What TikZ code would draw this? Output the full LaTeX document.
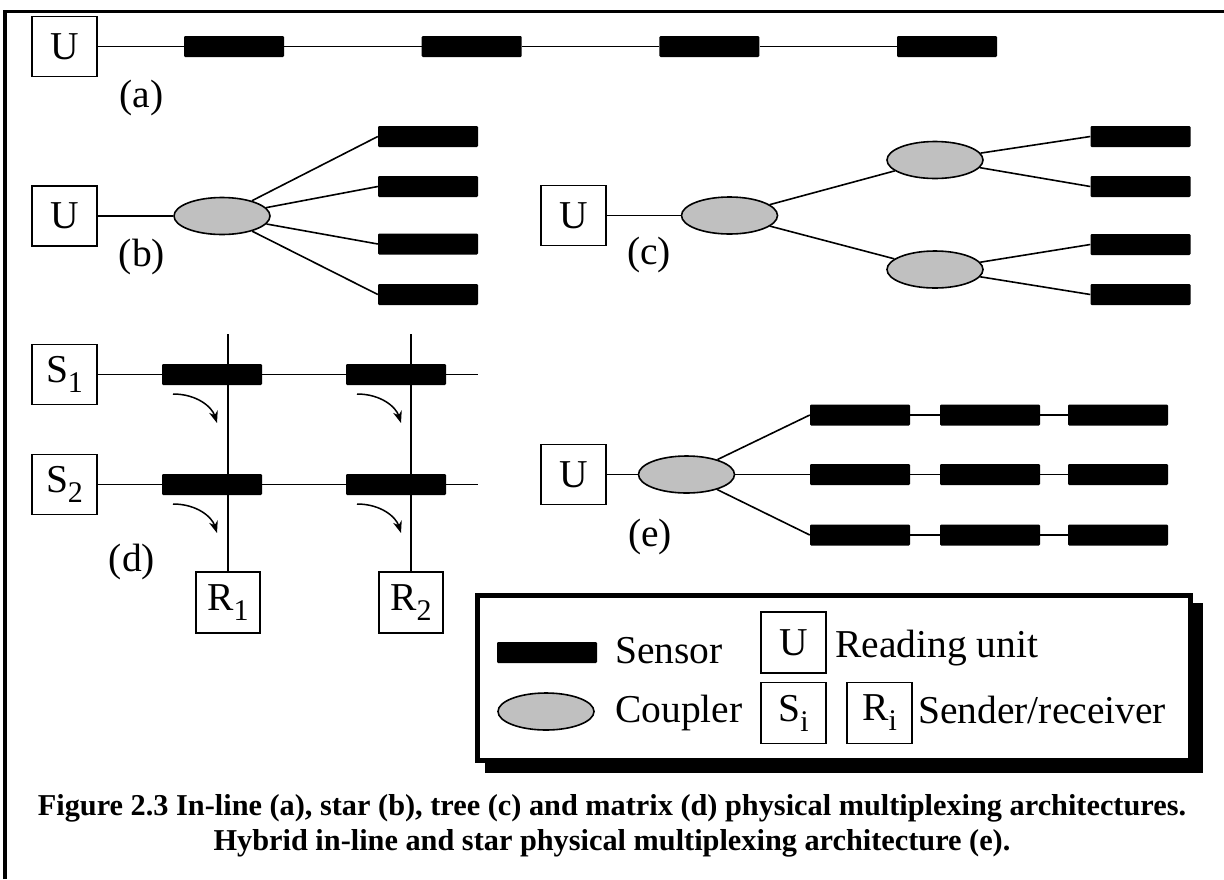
\documentclass[tikz,border=0pt]{standalone}
\usepackage{fontspec}
\setmainfont{Liberation Serif}
\usetikzlibrary{shapes.geometric,arrows.meta}
\definecolor{couplergray}{RGB}{192,192,192}
% lowered, slightly reduced index for S_1, R_i, ...
\newcommand{\lowsub}[1]{\raisebox{-10pt}{\fontsize{30}{30}\selectfont #1}}

\begin{document}
\begin{tikzpicture}[x=1pt,y=-1pt,
  every node/.style={font=\fontsize{39.5}{44}\selectfont},
  unitbox/.style={draw, line width=1.6pt, minimum width=65pt, minimum height=60pt, inner sep=0pt},
  sensor/.style={fill=black, rounded corners=1.2pt, minimum width=100pt, minimum height=21pt, inner sep=0pt},
  coupler/.style={ellipse, draw, line width=1.6pt, fill=couplergray, minimum width=96pt, minimum height=37pt, inner sep=0pt},
  fibre/.style={line width=1.6pt},
  lbl/.style={inner sep=0pt},
  tap/.style={line width=1.5pt, -{Stealth[length=12pt,width=9pt]}},
  captionline/.style={inner sep=0pt, anchor=base, font=\bfseries\fontsize{30.3}{36}\selectfont}
]
\useasboundingbox (0,0) rectangle (1224,879);

% outer frame
\draw[line width=3.5pt, line join=miter] (5,879) -- (5,11.5) -- (1224,11.5);

% (a) in-line
\node[unitbox] (ua) at (64.5,46.5) {U};
\node[sensor] (a1) at (234,46.5) {};
\node[sensor] (a2) at (471.7,46.5) {};
\node[sensor] (a3) at (709.3,46.5) {};
\node[sensor] (a4) at (947,46.5) {};
\draw[fibre] (ua) -- (a1) -- (a2) -- (a3) -- (a4);
\node[lbl] (la) at (141.5,98) {(a)};

% (b) star
\node[unitbox] (ub) at (64.5,216) {U};
\node[coupler] (cb) at (222,216) {};
\node[sensor] (b1) at (428,136.5) {};
\node[sensor] (b2) at (428,186.5) {};
\node[sensor] (b3) at (428,244) {};
\node[sensor] (b4) at (428,294.5) {};
\draw[fibre] (ub) -- (cb);
\foreach \s in {b1,b2,b3,b4} \draw[fibre] (cb) -- (\s.west);
\node[lbl] (lb) at (142,257) {(b)};

% (c) tree
\node[unitbox] (uc) at (573.5,215.5) {U};
\node[coupler] (c0) at (729.5,215.5) {};
\node[coupler] (c1) at (935,160) {};
\node[coupler] (c2) at (935,269.5) {};
\node[sensor] (c11) at (1140.5,136.5) {};
\node[sensor] (c12) at (1140.5,186.5) {};
\node[sensor] (c21) at (1140.5,244.5) {};
\node[sensor] (c22) at (1140.5,294.5) {};
\draw[fibre] (uc) -- (c0);
\draw[fibre] (c0) -- (c1);
\draw[fibre] (c0) -- (c2);
\draw[fibre] (c1) -- (c11.west);
\draw[fibre] (c1) -- (c12.west);
\draw[fibre] (c2) -- (c21.west);
\draw[fibre] (c2) -- (c22.west);
\node[lbl] (lc) at (649,255) {(c)};

% (d) matrix
\node[unitbox] (s1) at (64.5,374.5) {S\lowsub{1}};
\node[unitbox] (s2) at (64.5,484.5) {S\lowsub{2}};
\node[unitbox, minimum width=64pt, minimum height=61pt] (r1) at (228,602.5) {R\lowsub{1}};
\node[unitbox, minimum width=64pt, minimum height=61pt] (r2) at (411,602.5) {R\lowsub{2}};
\coordinate (t1) at (228,334);
\coordinate (t2) at (411,334);
\coordinate (e1) at (478,374.5);
\coordinate (e2) at (478,484.5);
\draw[fibre] (t1) -- (r1.north);
\draw[fibre] (t2) -- (r2.north);
\node[sensor] (d11) at (212,374.5) {};
\node[sensor] (d12) at (396,374.5) {};
\node[sensor] (d21) at (212,484.5) {};
\node[sensor] (d22) at (396,484.5) {};
\draw[fibre] (s1) -- (d11) -- (d12) -- (e1);
\draw[fibre] (s2) -- (d21) -- (d22) -- (e2);
\foreach \dx/\dy [count=\k] in {0/0, 184/0, 0/110, 184/110} {
  \coordinate (tapA\k) at (173+\dx,394+\dy);
  \coordinate (tapB\k) at (217+\dx,423+\dy);
  \draw[tap] (tapA\k) .. controls +(24,0) and +(-5,-16) .. (tapB\k);
}
\node[lbl] (ld) at (132,562) {(d)};

% (e) hybrid in-line and star
\node[unitbox] (ue) at (573.5,474.5) {U};
\node[coupler] (ce) at (686.5,474.5) {};
\foreach \r/\y in {1/415, 2/474.5, 3/535} {
  \node[sensor] (e\r1) at (860,\y) {};
  \node[sensor] (e\r2) at (990,\y) {};
  \node[sensor] (e\r3) at (1118,\y) {};
  \draw[fibre] (ce) -- (e\r1.west);
  \draw[fibre] (e\r1) -- (e\r2) -- (e\r3);
}
\draw[fibre] (ue) -- (ce);
\node[lbl] (le) at (650,537) {(e)};

% legend with drop shadow
\fill (485,603) rectangle (1203,773);
\node[draw, line width=5pt, fill=white, minimum width=713pt, minimum height=165pt, inner sep=0pt] (legend) at (834,678) {};
\node[sensor] (ks) at (547,652.5) {};
\node[lbl, anchor=base west] (kst) at (615,663) {Sensor};
\node[coupler] (kc) at (546,711.5) {};
\node[lbl, anchor=base west] (kct) at (615,722) {Coupler};
\node[unitbox, minimum height=61pt] (ku) at (793.5,642.5) {U};
\node[lbl, anchor=base west] (kut) at (835,657) {Reading unit};
\node[unitbox, minimum height=61pt] (ksi) at (793.5,713) {S\lowsub{i}};
\node[unitbox, minimum height=61pt] (kri) at (879.5,713) {R\lowsub{i}};
\node[lbl, anchor=base west] (krt) at (918,723) {Sender/receiver};

% caption
\node[captionline] (cap1) at (612,815) {Figure 2.3 In-line (a), star (b), tree (c) and matrix (d) physical multiplexing architectures.};
\node[captionline] (cap2) at (612,850) {Hybrid in-line and star physical multiplexing architecture (e).};
\end{tikzpicture}
\end{document}
